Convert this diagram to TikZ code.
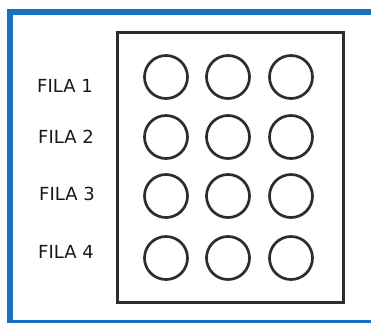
\documentclass[tikz,border=0pt]{standalone}
\usepackage{fontspec}
\setmainfont{DejaVu Sans}
\usetikzlibrary{positioning}
\definecolor{frameblue}{RGB}{22,112,196}
\definecolor{ink}{RGB}{45,45,45}
\tikzset{
	hole/.style = {circle, draw=ink, line width=2.7pt, minimum size=43pt, inner sep=0pt},
	fila/.style = {font=\fontsize{18}{20}\selectfont, text=black!90, inner sep=0pt}
}

\begin{document}
\begin{tikzpicture}[x=1pt,y=-1pt]
	\useasboundingbox (0,0) rectangle (371,322);
	\clip (0,0) rectangle (371,322);
	% frame
	\draw[frameblue, line width=6pt] (10,12) rectangle (390,323);
	\draw[ink, line width=3pt] (117,32) rectangle (343,302);
	% holes
	\foreach \r/\y in {1/77,2/137,3/196,4/258}{
		\foreach \c/\x in {1/166,2/228,3/291}{
			\node[hole] (c\r\c) at (\x,\y) {};
		}
	}
	% labels
	\node[fila] (fila1) at (65,86) {FILA 1};
	\node[fila] (fila2) at (66,137) {FILA 2};
	\node[fila] (fila3) at (67,194) {FILA 3};
	\node[fila] (fila4) at (66,252) {FILA 4};
\end{tikzpicture}
\end{document}
